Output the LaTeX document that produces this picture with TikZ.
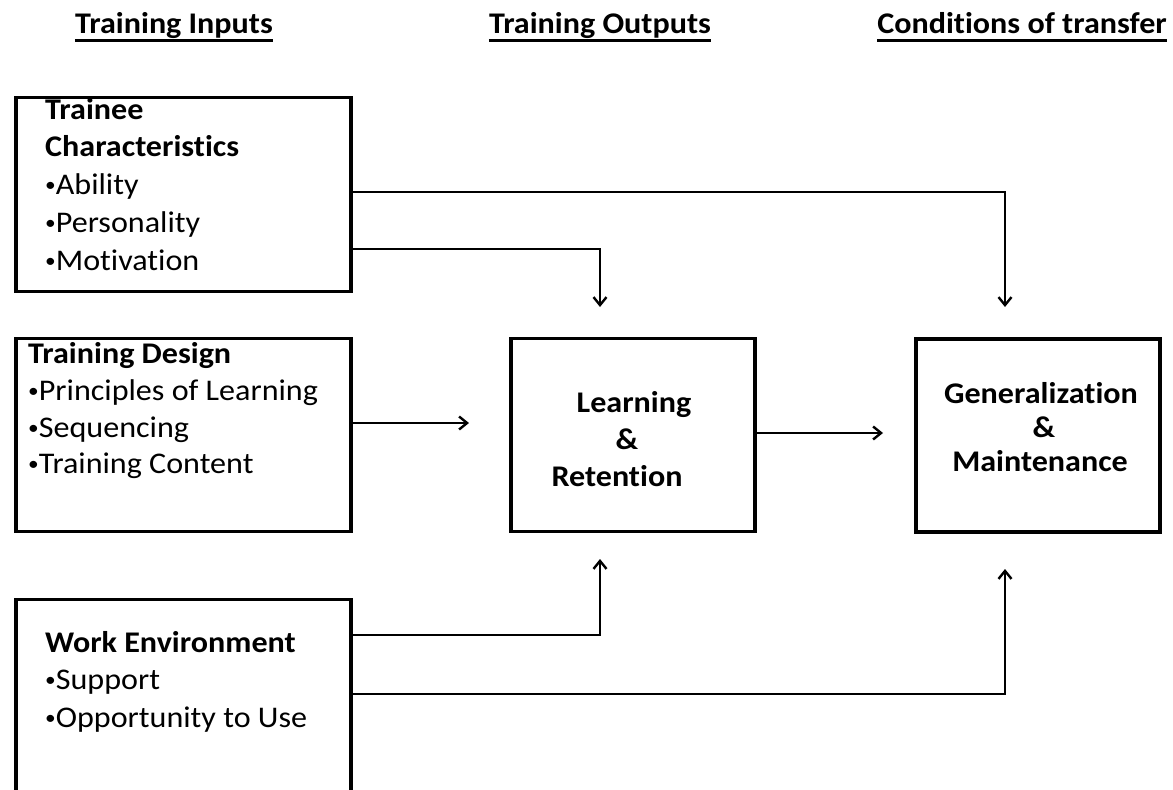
\documentclass[tikz,border=0pt]{standalone}
\usepackage{fontspec}
\setmainfont{Carlito}[FakeStretch=1.07,Ligatures={NoCommon}]
\usetikzlibrary{arrows.meta}
\newcommand\bul{\raisebox{2.5pt}{\fontsize{20}{20}\selectfont •}}
\tikzset{
  box/.style={draw, line width=3.8pt, rectangle, inner sep=0pt, anchor=north west},
  conn/.style={line width=2.8pt, -{Straight Barb[length=8pt,width=13pt,line width=2.4pt]}},
  txt/.style={inner sep=0pt, font=\fontsize{30}{37}\selectfont},
  btxt/.style={txt, font=\fontsize{30}{37}\selectfont\bfseries},
  head/.style={btxt, anchor=base},
  uline/.style={line width=3pt}
}
\begin{document}
\begin{tikzpicture}[x=1pt,y=-1pt]
\useasboundingbox[fill=white] (0,0) rectangle (1173,790);
% headings
\node[head] (h1) at (174,33) {Training Inputs};
\node[head] (h2) at (600,33) {Training Outputs};
\node[head] (h3) at (1022,33) {Conditions of transfer};
\foreach \h in {h1,h2,h3}{
  \draw[uline] ([yshift=-7pt]\h.base west) -- ([yshift=-7pt]\h.base east);
}
% boxes
\node[box, minimum width=335pt, minimum height=194pt] (tc) at (14,95.5) {};
\node[box, minimum width=335pt, minimum height=193pt] (td) at (14,336.5) {};
\node[box, minimum width=335pt, minimum height=200pt] (we) at (14,597.5) {};
\node[box, minimum width=244pt, minimum height=193pt] (lr) at (509,336.5) {};
\node[box, minimum width=244pt, minimum height=193pt] (gm) at (914,337) {};
% box 1 text
\node[btxt, anchor=base west] (t1a) at (45,119) {Trainee};
\node[btxt, anchor=base west] (t1b) at (45,156) {Characteristics};
\node[txt, anchor=base west] (t1c) at (45,194) {\bul Ability};
\node[txt, anchor=base west] (t1d) at (45,232) {\bul Personality};
\node[txt, anchor=base west] (t1e) at (45,270) {\bul Motivation};
% box 2 text
\node[btxt, anchor=base west] (t2a) at (28,363) {Training Design};
\node[txt, anchor=base west] (t2b) at (28,400) {\bul Principles of Learning};
\node[txt, anchor=base west] (t2c) at (28,437) {\bul Sequencing};
\node[txt, anchor=base west] (t2d) at (28,473) {\bul Training Content};
% box 3 text
\node[btxt, anchor=base west] (t3a) at (45,652) {Work Environment};
\node[txt, anchor=base west] (t3b) at (45,689) {\bul Support};
\node[txt, anchor=base west] (t3c) at (45,727) {\bul Opportunity to Use};
% learning box text
\node[btxt, anchor=base] (l1) at (634,412) {Learning};
\node[btxt, anchor=base] (l2) at (627,449) {\&};
\node[btxt, anchor=base] (l3) at (617,486) {Retention};
% generalization box text
\node[btxt, anchor=base] (g1) at (1041,403) {Generalization};
\node[btxt, anchor=base] (g2) at (1044,437) {\&};
\node[btxt, anchor=base] (g3) at (1040,471) {Maintenance};
% connector end points
\coordinate (y1) at (0,192);
\coordinate (y2) at (0,249);
\coordinate (y3) at (0,423);
\coordinate (y4) at (0,433);
\coordinate (y5) at (0,635);
\coordinate (y6) at (0,694);
\coordinate (e1) at (1005,307);
\coordinate (e2) at (600,307);
\coordinate (e3) at (469,423);
\coordinate (e4) at (883,433);
\coordinate (e5) at (600,559);
\coordinate (e6) at (1005,569);
% connectors
\draw[conn] (tc.east |- y1) -| (e1);
\draw[conn] (tc.east |- y2) -| (e2);
\draw[conn] (td.east |- y3) -- (e3);
\draw[conn] (lr.east |- y4) -- (e4);
\draw[conn] (we.east |- y5) -| (e5);
\draw[conn] (we.east |- y6) -| (e6);
\end{tikzpicture}
\end{document}
